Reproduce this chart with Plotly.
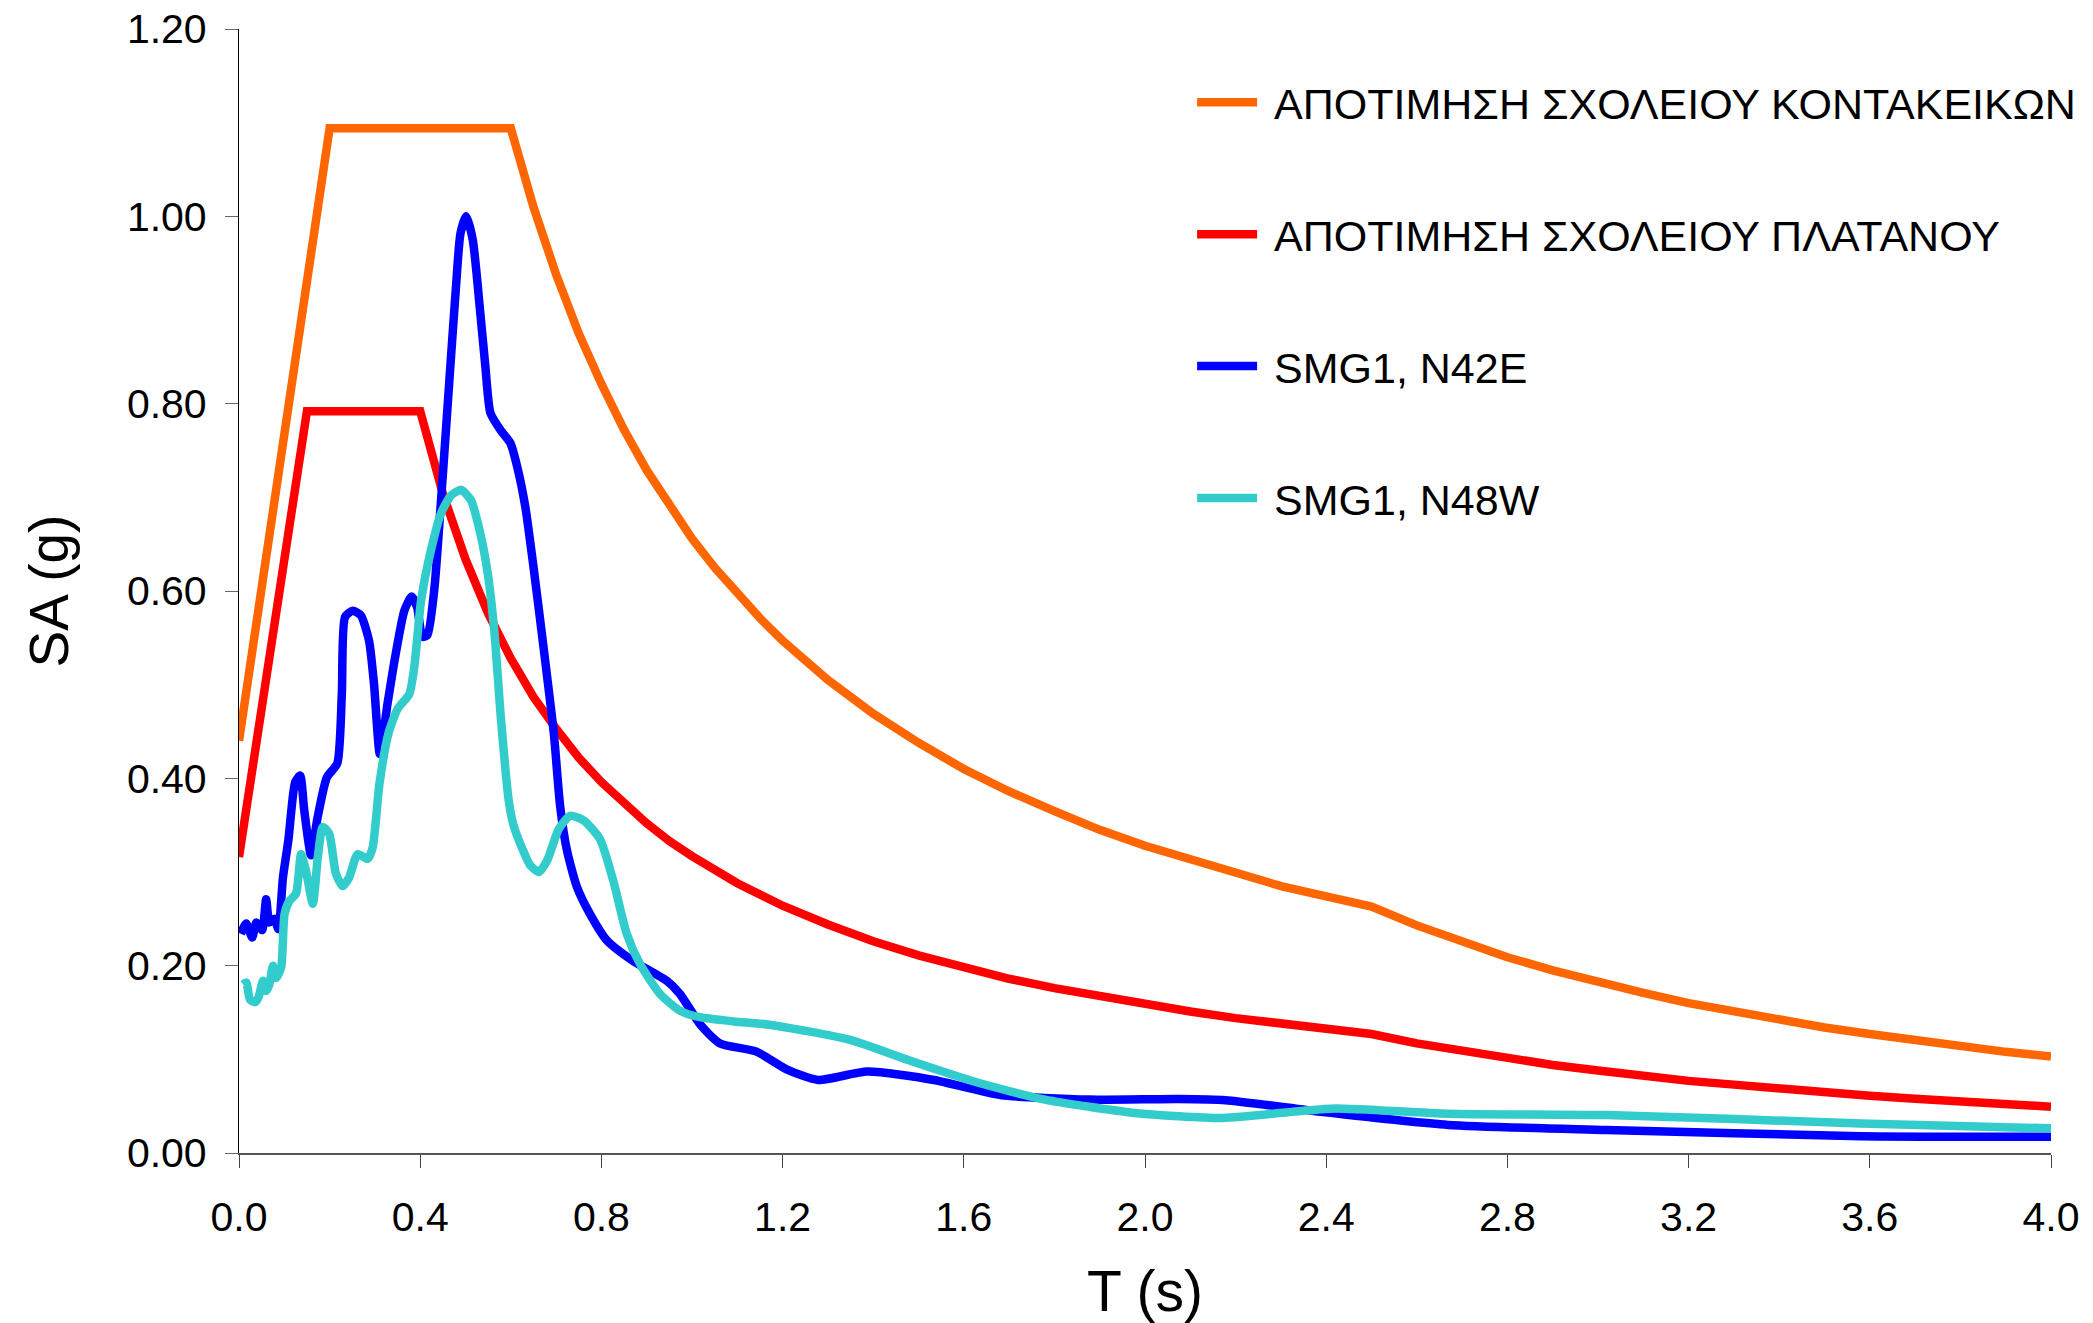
import plotly.graph_objects as go

# Design spectra (period T in s, spectral acceleration SA in g)
t_kontakeikon = [0.0, 0.2, 0.6, 0.65, 0.7, 0.75, 0.8, 0.85, 0.9, 0.95, 1.0, 1.05, 1.1, 1.15,
                 1.2, 1.3, 1.4, 1.5, 1.6, 1.7, 1.8, 1.9, 2.0, 2.1, 2.2, 2.3, 2.4, 2.5, 2.6,
                 2.7, 2.8, 2.9, 3.0, 3.1, 3.2, 3.3, 3.4, 3.5, 3.6, 3.7, 3.8, 3.9, 4.0]
sa_kontakeikon = [0.44, 1.094, 1.094, 1.010, 0.938, 0.875, 0.821, 0.772, 0.729, 0.691, 0.656,
                  0.625, 0.597, 0.571, 0.547, 0.505, 0.469, 0.438, 0.410, 0.386, 0.365, 0.345,
                  0.328, 0.313, 0.298, 0.285, 0.274, 0.263, 0.243, 0.225, 0.209, 0.195, 0.182,
                  0.171, 0.160, 0.151, 0.142, 0.134, 0.127, 0.120, 0.114, 0.108, 0.103]

t_platanou = [0.0, 0.15, 0.4, 0.45, 0.5, 0.55, 0.6, 0.65, 0.7, 0.75, 0.8, 0.85, 0.9, 0.95,
              1.0, 1.1, 1.2, 1.3, 1.4, 1.5, 1.6, 1.7, 1.8, 1.9, 2.0, 2.1, 2.2, 2.3, 2.4, 2.5,
              2.6, 2.7, 2.8, 2.9, 3.0, 3.1, 3.2, 3.3, 3.4, 3.5, 3.6, 3.7, 3.8, 3.9, 4.0]
sa_platanou = [0.316, 0.792, 0.792, 0.704, 0.634, 0.576, 0.528, 0.487, 0.453, 0.422, 0.396,
               0.373, 0.352, 0.333, 0.317, 0.288, 0.264, 0.244, 0.226, 0.211, 0.198, 0.186,
               0.176, 0.167, 0.158, 0.151, 0.144, 0.138, 0.132, 0.127, 0.117, 0.109, 0.101,
               0.094, 0.088, 0.082, 0.077, 0.073, 0.0685, 0.065, 0.061, 0.058, 0.055, 0.052,
               0.0495]

# Recorded response spectra, station SMG1
t_n42e = [0.004, 0.016, 0.029, 0.038, 0.051, 0.060, 0.067, 0.078, 0.087, 0.097, 0.109, 0.124,
          0.135, 0.144, 0.159, 0.173, 0.194, 0.217, 0.227, 0.234, 0.251, 0.269, 0.287, 0.298,
          0.311, 0.328, 0.346, 0.365, 0.381, 0.393, 0.405, 0.416, 0.431, 0.445, 0.464, 0.479,
          0.489, 0.5015, 0.516, 0.533, 0.544, 0.555, 0.577, 0.599, 0.614, 0.632, 0.650, 0.673,
          0.695, 0.709, 0.724, 0.746, 0.775, 0.812, 0.870, 0.944, 0.973, 1.020, 1.062, 1.141,
          1.210, 1.278, 1.387, 1.534, 1.681, 1.877, 2.074, 2.178, 2.388, 2.669, 3.019, 3.580,
          4.000]
sa_n42e = [0.234, 0.245, 0.230, 0.246, 0.238, 0.271, 0.246, 0.250, 0.239, 0.294, 0.334, 0.396,
           0.403, 0.366, 0.318, 0.357, 0.401, 0.416, 0.490, 0.572, 0.579, 0.574, 0.547, 0.501,
           0.426, 0.480, 0.533, 0.579, 0.594, 0.583, 0.551, 0.553, 0.601, 0.690, 0.822, 0.925,
           0.982, 1.000, 0.975, 0.895, 0.839, 0.790, 0.772, 0.758, 0.733, 0.690, 0.626, 0.537,
           0.448, 0.370, 0.323, 0.284, 0.255, 0.227, 0.205, 0.184, 0.170, 0.136, 0.117, 0.1085,
           0.089, 0.078, 0.087, 0.078, 0.062, 0.057, 0.0577, 0.0564, 0.044, 0.030, 0.0246,
           0.018, 0.0174]

t_n48w = [0.009, 0.016, 0.024, 0.035, 0.043, 0.053, 0.060, 0.067, 0.075, 0.082, 0.093, 0.1005,
          0.111, 0.126, 0.137, 0.148, 0.163, 0.174, 0.185, 0.199, 0.214, 0.229, 0.243, 0.262,
          0.284, 0.295, 0.310, 0.330, 0.350, 0.376, 0.387, 0.402, 0.424, 0.446, 0.468, 0.4905,
          0.512, 0.531, 0.549, 0.564, 0.578, 0.5955, 0.606, 0.621, 0.643, 0.662, 0.680, 0.706,
          0.731, 0.761, 0.797, 0.826, 0.856, 0.885, 0.929, 0.973, 1.017, 1.092, 1.171, 1.347,
          1.485, 1.632, 1.779, 1.976, 2.172, 2.338, 2.420, 2.669, 3.019, 3.580, 4.000]
sa_n48w = [0.180, 0.182, 0.164, 0.161, 0.166, 0.184, 0.173, 0.180, 0.200, 0.187, 0.198, 0.255,
           0.269, 0.277, 0.319, 0.301, 0.266, 0.316, 0.348, 0.341, 0.298, 0.285, 0.294, 0.319,
           0.314, 0.326, 0.394, 0.448, 0.474, 0.490, 0.519, 0.590, 0.644, 0.683, 0.702, 0.708,
           0.697, 0.665, 0.619, 0.555, 0.465, 0.376, 0.350, 0.330, 0.307, 0.300, 0.312, 0.346,
           0.360, 0.355, 0.335, 0.291, 0.234, 0.202, 0.170, 0.152, 0.145, 0.1405, 0.137, 0.121,
           0.098, 0.075, 0.057, 0.0428, 0.0374, 0.0446, 0.0476, 0.042, 0.0405, 0.0316, 0.0263]

x_ticks = [0.0, 0.4, 0.8, 1.2, 1.6, 2.0, 2.4, 2.8, 3.2, 3.6, 4.0]
y_ticks = [0.0, 0.2, 0.4, 0.6, 0.8, 1.0, 1.2]

series = [
    ("ΑΠΟΤΙΜΗΣΗ ΣΧΟΛΕΙΟΥ ΚΟΝΤΑΚΕΙΚΩΝ", t_kontakeikon, sa_kontakeikon, "#FF6600", "linear"),
    ("ΑΠΟΤΙΜΗΣΗ ΣΧΟΛΕΙΟΥ ΠΛΑΤΑΝΟΥ", t_platanou, sa_platanou, "#FF0000", "linear"),
    ("SMG1, N42E", t_n42e, sa_n42e, "#0000FF", "spline"),
    ("SMG1, N48W", t_n48w, sa_n48w, "#33CCCC", "spline"),
]

FONT = "Liberation Sans, Arial, Helvetica, sans-serif"

fig = go.Figure()
for i, (name, t, sa, color, shape) in enumerate(series):
    line = dict(color=color, width=8.5, shape=shape)
    if shape == "spline":
        line["smoothing"] = 0.6
    # a no-break space keeps the gap between legend swatch and label
    fig.add_trace(go.Scatter(x=t, y=sa, mode="lines", name="\u00a0" + name, line=line,
                             legendgroup=f"g{i}"))

fig.update_layout(
    width=2093, height=1323,
    margin=dict(l=239, r=36, t=29, b=170, pad=0),
    paper_bgcolor="white", plot_bgcolor="white",
    font=dict(family=FONT, size=41, color="black"),
    showlegend=True,
    legend=dict(
        x=0.526, xanchor="left", y=0.9655, yanchor="top",
        bgcolor="rgba(0,0,0,0)", borderwidth=0,
        font=dict(family=FONT, size=43, color="black"),
        traceorder="grouped", tracegroupgap=73, itemwidth=60,
    ),
    xaxis=dict(
        range=[0, 4], tickvals=x_ticks, tickformat=".1f", automargin=False,
        showline=True, linecolor="#555555", linewidth=1.5,
        ticks="outside", ticklen=13, tickcolor="#444444", tickwidth=1.3,
        showgrid=False, zeroline=False, ticklabelstandoff=14,
        title=dict(text="T (s)", font=dict(family=FONT, size=57), standoff=32),
    ),
    yaxis=dict(
        range=[0, 1.2], tickvals=y_ticks, tickformat=".2f", automargin=False,
        showline=True, linecolor="black", linewidth=1.2,
        ticks="outside", ticklen=13, tickcolor="#666666", tickwidth=1.3,
        showgrid=False, zeroline=False, ticklabelstandoff=10,
        title=dict(text="SA (g)", font=dict(family=FONT, size=55), standoff=40),
    ),
)

fig.write_html("out.html")
